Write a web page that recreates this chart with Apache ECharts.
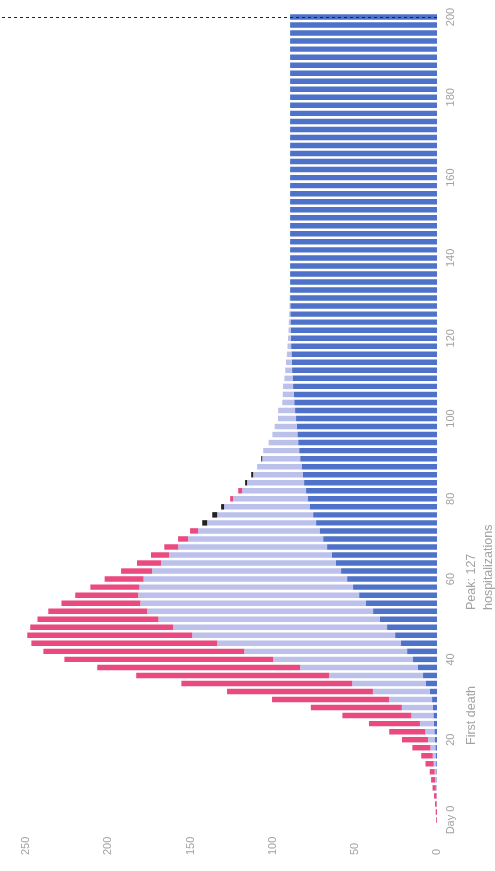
<!DOCTYPE html>
<html>
<head>
<meta charset="utf-8">
<script src="https://cdn.jsdelivr.net/npm/echarts@6/dist/echarts.min.js"></script>
<style>
  html, body { margin: 0; padding: 0; background: #fff; }
  #chart { width: 495px; height: 871px; }
</style>
</head>
<body>
<div id="chart"></div>
<script>
// Day of the outbreak, one bar every two days
const days = [
  '0','2','4','6','8','10','12','14','16','18',
  '20','22','24','26','28','30','32','34','36','38',
  '40','42','44','46','48','50','52','54','56','58',
  '60','62','64','66','68','70','72','74','76','78',
  '80','82','84','86','88','90','92','94','96','98',
  '100','102','104','106','108','110','112','114','116','118',
  '120','122','124','126','128','130','132','134','136','138',
  '140','142','144','146','148','150','152','154','156','158',
  '160','162','164','166','168','170','172','174','176','178',
  '180','182','184','186','188','190','192','194','196','198',
  '200'
];

// Cumulative recovered
const recovered = [
  0, 0, 0, 0, 0.2, 0.3, 0.4, 0.5, 0.6, 1.0,
  1.2, 1.6, 1.9, 2.2, 2.5, 3.0, 4.3, 6.7, 8.5, 11.6,
  14.6, 18.2, 21.9, 25.5, 30.4, 34.7, 38.9, 43.2, 47.4, 51.1,
  54.7, 58.4, 61.5, 64.0, 66.9, 69.3, 71.5, 73.6, 75.4, 77.3,
  78.8, 79.7, 80.9, 81.8, 82.4, 83.3, 83.9, 84.5, 85.0, 85.4,
  85.8, 86.4, 86.9, 87.2, 87.6, 87.9, 88.2, 88.4, 88.6, 88.8,
  89.0, 89.1, 89.2, 89.3, 89.3, 89.4, 89.4, 89.4, 89.4, 89.4,
  89.4, 89.4, 89.4, 89.4, 89.4, 89.4, 89.4, 89.4, 89.4, 89.4,
  89.4, 89.4, 89.4, 89.4, 89.4, 89.4, 89.4, 89.4, 89.4, 89.4,
  89.4, 89.4, 89.4, 89.4, 89.4, 89.4, 89.4, 89.4, 89.4, 89.4,
  89.4
];

// Currently hospitalized
const hospitalized = [
  0, 0, 0.2, 0.3, 0.5, 0.8, 1.0, 1.5, 2.0, 3.0,
  4.3, 5.5, 8.5, 13.4, 18.9, 26.2, 34.7, 44.9, 57.2, 71.7,
  85.2, 99.1, 111.9, 123.5, 130.2, 134.9, 137.5, 137.4, 134.5, 130.1,
  123.9, 115.0, 106.5, 99.1, 90.6, 82.2, 73.9, 66.3, 58.4, 52.3,
  45.3, 38.9, 34.7, 30.1, 27.1, 23.1, 21.9, 18.0, 15.2, 13.4,
  11.0, 10.3, 7.3, 6.7, 6.1, 5.0, 4.2, 3.5, 2.8, 2.2,
  1.7, 1.3, 1.0, 0.7, 0.5, 0.3, 0, 0, 0, 0,
  0, 0, 0, 0, 0, 0, 0, 0, 0, 0,
  0, 0, 0, 0, 0, 0, 0, 0, 0, 0,
  0, 0, 0, 0, 0, 0, 0, 0, 0, 0,
  0
];

// New hospitalizations
const newCases = [
  0.5, 0.8, 1.0, 1.5, 2.0, 2.5, 3.0, 5.0, 7.0, 11.0,
  15.8, 22.0, 31.0, 42.0, 55.4, 71.2, 88.8, 104.0, 117.4, 123.5,
  127, 122.3, 113.1, 100.4, 87.0, 73.6, 60.2, 48.0, 38.3, 29.8,
  23.7, 18.9, 14.6, 11.0, 8.5, 6.1, 4.9, 0, 0, 0,
  1.8, 2.4, 0, 0, 0, 0, 0, 0, 0, 0,
  0, 0, 0, 0, 0, 0, 0, 0, 0, 0,
  0, 0, 0, 0, 0, 0, 0, 0, 0, 0,
  0, 0, 0, 0, 0, 0, 0, 0, 0, 0,
  0, 0, 0, 0, 0, 0, 0, 0, 0, 0,
  0, 0, 0, 0, 0, 0, 0, 0, 0, 0,
  0
];

// Deaths
const deaths = [
  0, 0, 0, 0, 0, 0, 0, 0, 0, 0,
  0, 0, 0, 0, 0, 0, 0, 0, 0, 0,
  0, 0, 0, 0, 0, 0, 0, 0, 0, 0,
  0, 0, 0, 0, 0, 0, 0, 3.0, 3.0, 1.8,
  0, 0, 1.2, 1.2, 0, 0.6, 0, 0, 0, 0,
  0, 0, 0, 0, 0, 0, 0, 0, 0, 0,
  0, 0, 0, 0, 0, 0, 0, 0, 0, 0,
  0, 0, 0, 0, 0, 0, 0, 0, 0, 0,
  0, 0, 0, 0, 0, 0, 0, 0, 0, 0,
  0, 0, 0, 0, 0, 0, 0, 0, 0, 0,
  0
];

const valueTicks = [0, 50, 100, 150, 200, 250];
const peakValue = Math.round(Math.max.apply(null, newCases));

const labelGrey = '#a3a3a3';
const fontFamily = 'Liberation Sans, Arial, sans-serif';
const chart = echarts.init(document.getElementById('chart'), null, { renderer: 'canvas' });

const barCommon = {
  type: 'bar',
  stack: 'total',
  barCategoryGap: '32%',
  silent: true,
  animation: false
};

function note(text, x, y) {
  return {
    type: 'text', x: x, y: y, rotation: Math.PI / 2,
    style: { text: text, fill: labelGrey, fontSize: 12.5, fontFamily: fontFamily,
      textAlign: 'left', textVerticalAlign: 'top' }
  };
}

chart.setOption({
  animation: false,
  grid: { left: 0, right: 58, top: 13, bottom: 47, containLabel: false },
  xAxis: {
    type: 'value',
    inverse: true,
    min: 0,
    max: 266,
    interval: 50,
    axisLine: { show: false },
    axisTick: { show: false },
    splitLine: { show: false },
    axisLabel: {
      rotate: 90,
      align: 'left',
      margin: 31,
      color: labelGrey,
      fontFamily: fontFamily,
      fontSize: 11,
      showMaxLabel: false,
      formatter: v => (valueTicks.indexOf(v) >= 0 ? String(v) : '')
    }
  },
  yAxis: {
    type: 'category',
    position: 'right',
    data: days,
    axisLine: { show: false },
    axisTick: { show: false },
    splitLine: { show: false },
    axisLabel: {
      interval: 9,
      rotate: 90,
      margin: 8,
      color: labelGrey,
      fontFamily: fontFamily,
      fontSize: 11,
      formatter: v => (v === '0' ? 'Day 0' : v)
    }
  },
  series: [
    Object.assign({}, barCommon, {
      name: 'Recovered',
      data: recovered,
      itemStyle: { color: '#4e72c9' },
      markLine: {
        silent: true,
        symbol: 'none',
        label: { show: false },
        lineStyle: { color: '#222', type: [3, 3], width: 1 },
        data: [{ yAxis: '200' }]
      }
    }),
    Object.assign({}, barCommon, {
      name: 'Hospitalized',
      data: hospitalized,
      itemStyle: { color: '#bcc1eb' }
    }),
    Object.assign({}, barCommon, {
      name: 'New',
      data: newCases,
      itemStyle: { color: '#ea4a7f' }
    }),
    Object.assign({}, barCommon, {
      name: 'Deaths',
      data: deaths,
      itemStyle: { color: '#222' }
    })
  ],
  graphic: [
    note('First death', 465, 745),
    note('Peak: ' + peakValue, 465, 610),
    note('hospitalizations', 482, 610)
  ]
});
</script>
</body>
</html>
